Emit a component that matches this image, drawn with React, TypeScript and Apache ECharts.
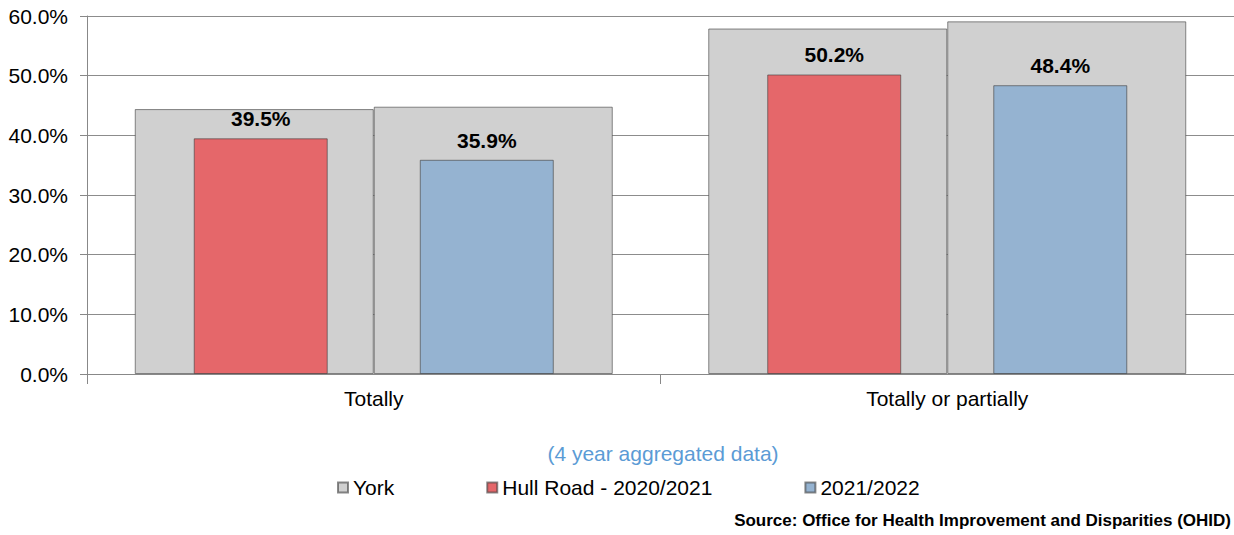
import React, { useEffect, useRef } from "react";
import * as echarts from "echarts";

const categories = ["Totally", "Totally or partially"];
const york2021 = [44.4, 57.9];
const york2122 = [44.8, 59.1];
const hullRoad2021 = [39.5, 50.2];
const hullRoad2122 = [35.9, 48.4];
const yTicks = [0, 10, 20, 30, 40, 50, 60];

const FONT = "'Liberation Sans', Arial, sans-serif";
const BORDER = "rgba(60,60,60,0.6)";

export default function App() {
  const ref = useRef<HTMLDivElement>(null);
  useEffect(() => {
    if (!ref.current) return;
    const chart = echarts.init(ref.current, null, { renderer: "svg" });
    const labelCfg = {
      show: true,
      position: "top",
      distance: 9,
      formatter: (p: any) => p.value.toFixed(1) + "%",
      fontFamily: FONT,
      fontSize: 21,
      fontWeight: "bold",
      color: "#000",
    };
    chart.setOption({
      animation: false,
      backgroundColor: "#fff",
      grid: { left: 87, right: 0, top: 16, height: 358 },
      legend: {
        left: 332,
        top: 472,
        itemWidth: 10,
        itemHeight: 10,
        itemGap: 92,
        icon: "rect",
        textStyle: { fontFamily: FONT, fontSize: 21, color: "#000" },
        data: ["York", "Hull Road - 2020/2021", "2021/2022"],
      },
      xAxis: [
        {
          type: "category",
          data: categories,
          axisLine: { lineStyle: { color: "#888", width: 1 } },
          axisTick: { show: true, length: 10, lineStyle: { color: "#888" } },
          axisLabel: { fontFamily: FONT, fontSize: 21, color: "#000", margin: 14 },
        },
        {
          type: "category",
          data: categories,
          show: false,
        },
      ],
      yAxis: {
        type: "value",
        min: yTicks[0],
        max: yTicks[yTicks.length - 1],
        interval: 10,
        axisLine: { show: true, lineStyle: { color: "#888" } },
        axisTick: { show: true, length: 7, lineStyle: { color: "#888" } },
        splitLine: { lineStyle: { color: "#8c8c8c", width: 1 } },
        axisLabel: {
          fontFamily: FONT,
          fontSize: 21,
          color: "#000",
          margin: 19,
          formatter: (v: number) => v.toFixed(1) + "%",
        },
      },
      series: [
        {
          name: "York",
          type: "bar",
          xAxisIndex: 0,
          data: york2021,
          barWidth: 239,
          barGap: "0%",
          itemStyle: { color: "#D0D0D0", borderColor: BORDER, borderWidth: 1 },
        },
        {
          name: "York",
          type: "bar",
          xAxisIndex: 0,
          data: york2122,
          barWidth: 239,
          barGap: "0%",
          itemStyle: { color: "#D0D0D0", borderColor: BORDER, borderWidth: 1 },
        },
        {
          name: "Hull Road - 2020/2021",
          type: "bar",
          xAxisIndex: 1,
          data: hullRoad2021,
          barWidth: 134,
          barGap: "68.7%",
          z: 3,
          itemStyle: { color: "#E5676A", borderColor: BORDER, borderWidth: 1 },
          label: labelCfg,
        },
        {
          name: "2021/2022",
          type: "bar",
          xAxisIndex: 1,
          data: hullRoad2122,
          barWidth: 134,
          barGap: "68.7%",
          z: 3,
          itemStyle: { color: "#95B3D1", borderColor: BORDER, borderWidth: 1 },
          label: labelCfg,
        },
      ],
      graphic: [
        {
          type: "text",
          x: 663,
          y: 443,
          style: {
            text: "(4 year aggregated data)",
            textAlign: "center",
            fontFamily: FONT,
            fontSize: 21,
            fill: "#5B9BD5",
          },
        },
        {
          type: "text",
          x: 1231,
          y: 512,
          style: {
            text: "Source: Office for Health Improvement and Disparities (OHID)",
            textAlign: "right",
            fontFamily: FONT,
            fontSize: 17,
            fontWeight: "bold",
            fill: "#000",
          },
        },
      ],
    });
    return () => chart.dispose();
  }, []);
  return (
    <div
      ref={ref}
      style={{ position: "fixed", left: 0, top: 0, width: 1234, height: 535 }}
    />
  );
}
